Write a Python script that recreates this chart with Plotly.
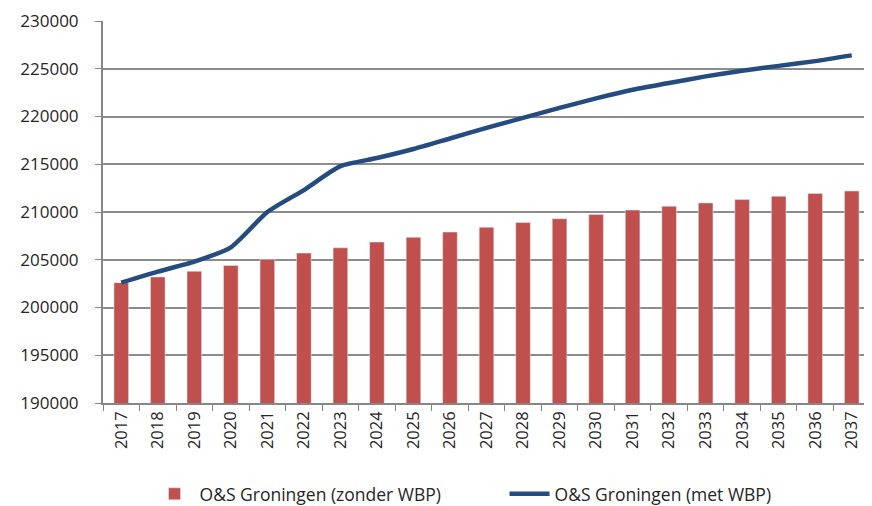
import plotly.graph_objects as go

years = [str(y) for y in range(2017, 2038)]

zonder_wbp = [202600, 203200, 203800, 204400, 205050, 205700, 206250, 206850,
              207350, 207900, 208400, 208900, 209300, 209750, 210200, 210600,
              210950, 211300, 211650, 211950, 212200]

met_wbp = [202600, 203750, 204800, 206300, 210000, 212300, 214800, 215650,
           216600, 217700, 218800, 219850, 220900, 221900, 222800, 223500,
           224200, 224800, 225300, 225800, 226400]

fig = go.Figure()

fig.add_trace(go.Bar(
    x=years, y=zonder_wbp,
    name="O&S Groningen (zonder WBP)",
    marker=dict(color="#C0504D"),
    width=0.4,
))

fig.add_trace(go.Scatter(
    x=years, y=met_wbp,
    name="O&S Groningen (met WBP)",
    mode="lines",
    line=dict(color="#244C80", width=4.5, shape="spline", smoothing=0.6),
))

# page body has a margin, so the figure is drawn a bit smaller
fig.update_layout(
    width=864, height=498,
    margin=dict(l=95, r=2, t=13, b=103, autoexpand=False),
    plot_bgcolor="white",
    paper_bgcolor="white",
    font=dict(family="Open Sans", size=17, color="#262626"),
    showlegend=True,
    legend=dict(
        orientation="h",
        x=0.5235, xanchor="center",
        y=-0.238, yanchor="middle",
        font=dict(size=17.5, color="#262626"),
        itemwidth=40,
        entrywidth=300,
        traceorder="normal",
    ),
)

fig.update_xaxes(
    type="category",
    tickangle=-90,
    tickfont=dict(size=16.5),
    showline=True, linecolor="#868686", linewidth=1.5,
    ticks="outside", ticklen=6, tickcolor="#868686",
    tickson="boundaries",
    showgrid=False,
    automargin=False,
)

fig.update_yaxes(
    range=[190000, 230000],
    dtick=5000,
    tickformat="d",
    tickfont=dict(size=17),
    showline=True, linecolor="#868686", linewidth=1.5,
    ticks="outside", ticklen=6, tickcolor="#868686",
    showgrid=True, gridcolor="#8c8c8c", gridwidth=1.5,
    zeroline=False,
    ticksuffix="   ",
    automargin=False,
)

fig.write_html("out.html")
